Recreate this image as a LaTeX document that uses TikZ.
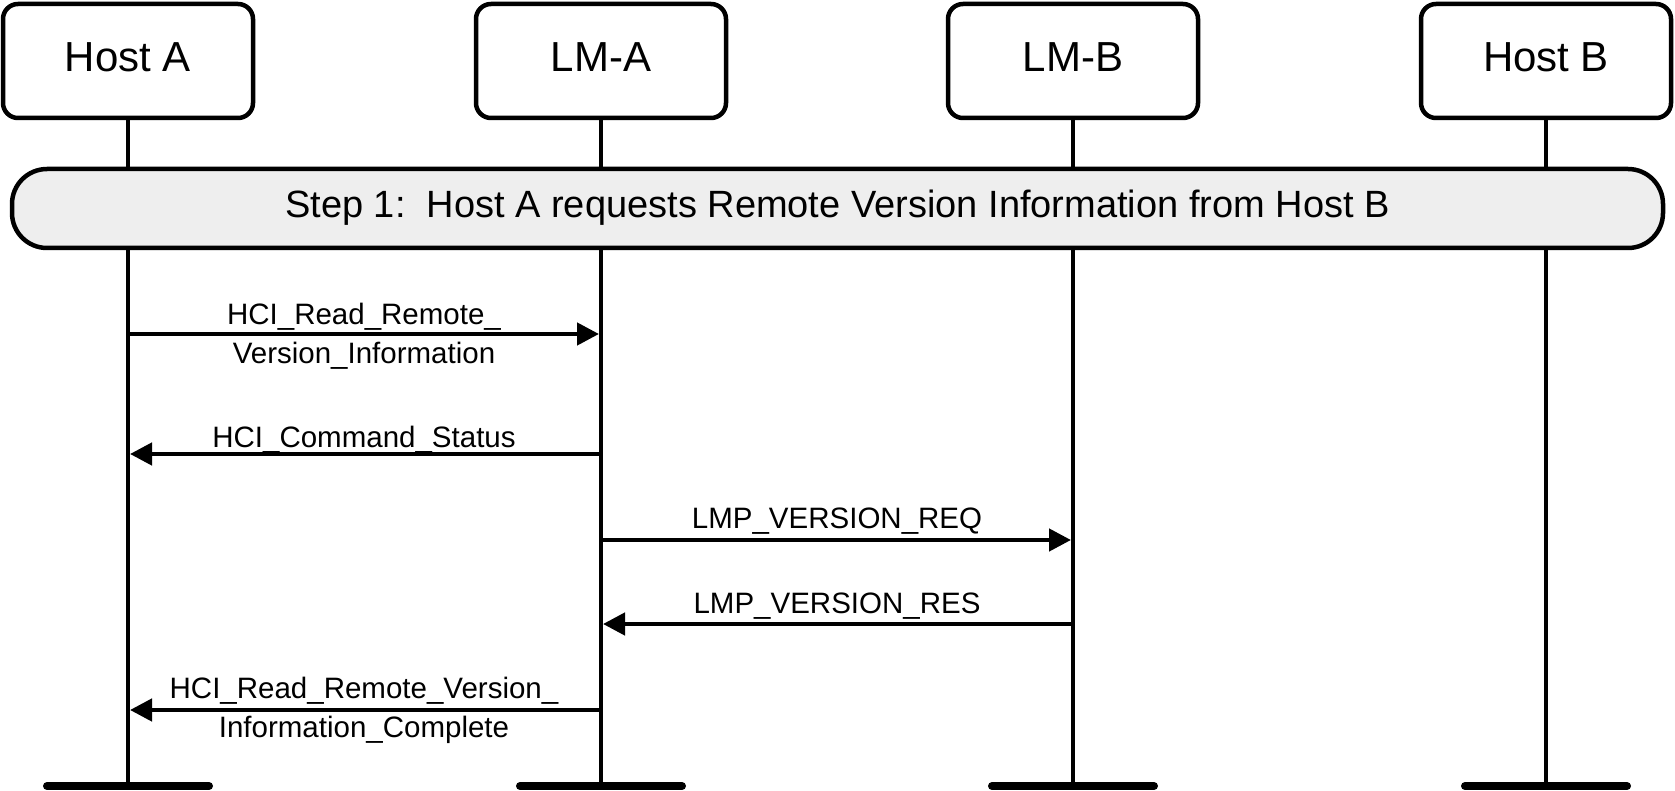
\documentclass[tikz,border=0pt]{standalone}
\usepackage{fontspec}
\setmainfont{Liberation Sans}
\usetikzlibrary{arrows.meta}
\begin{document}
\begin{tikzpicture}[x=1pt,y=-1pt,
  actor/.style={draw=black, line width=4.5pt, rounded corners=15pt, fill=white,
    minimum width=250pt, minimum height=114pt, inner sep=0pt,
    font=\fontsize{42pt}{48pt}\selectfont, text height=30pt, text depth=8pt},
  life/.style={line width=4.5pt},
  endbar/.style={line width=8pt, line cap=round},
  banner/.style={draw=black, line width=4.5pt, rounded corners=35pt, fill=bannergray,
    minimum width=1651pt, minimum height=79pt, inner sep=0pt,
    font=\fontsize{38pt}{42pt}\selectfont, text height=26pt, text depth=7pt},
  msg/.style={line width=4.5pt, -{Triangle[length=22pt,width=22pt]}, shorten >=2pt},
  lbl/.style={font=\fontsize{29.5pt}{33pt}\selectfont, inner sep=0pt, anchor=base}
]
\definecolor{bannergray}{HTML}{EEEEEE}
\useasboundingbox (0,0) rectangle (1675,791);

% actors
\node[actor] (ha)  at (128,61)  {Host A};
\node[actor] (lma) at (601,61)  {LM-A};
\node[actor] (lmb) at (1073,61) {LM-B};
\node[actor] (hb)  at (1546,61) {Host B};

% bottom coordinates
\coordinate (bot) at (0,786);
\coordinate (endA) at (ha |- bot);
\coordinate (endLA) at (lma |- bot);
\coordinate (endLB) at (lmb |- bot);
\coordinate (endB) at (hb |- bot);

% lifelines
\draw[life] (ha.south) -- (endA);
\draw[life] (lma.south) -- (endLA);
\draw[life] (lmb.south) -- (endLB);
\draw[life] (hb.south) -- (endB);

% end bars
\draw[endbar] ([xshift=-81pt]endA) -- ([xshift=81pt]endA);
\draw[endbar] ([xshift=-81pt]endLA) -- ([xshift=81pt]endLA);
\draw[endbar] ([xshift=-81pt]endLB) -- ([xshift=81pt]endLB);
\draw[endbar] ([xshift=-81pt]endB) -- ([xshift=81pt]endB);

% banner
\node[banner] (step) at (837.5,208.5) {Step 1:\ \ Host A requests Remote Version Information from Host B};

% message rows
\coordinate (m1) at (0,334);
\coordinate (m2) at (0,454);
\coordinate (m3) at (0,540);
\coordinate (m4) at (0,624);
\coordinate (m5) at (0,710);

\draw[msg] (ha |- m1) -- (lma |- m1);
\node[lbl] (t1a) at (364,325) {HCI\_Read\_Remote\_};
\node[lbl] (t1b) at (364,363) {Version\_Information};

\draw[msg] (lma |- m2) -- (ha |- m2);
\node[lbl] (t2) at (364,447) {HCI\_Command\_Status};

\draw[msg] (lma |- m3) -- (lmb |- m3);
\node[lbl] (t3) at (837,528) {LMP\_VERSION\_REQ};

\draw[msg] (lmb |- m4) -- (lma |- m4);
\node[lbl] (t4) at (837,613) {LMP\_VERSION\_RES};

\draw[msg] (lma |- m5) -- (ha |- m5);
\node[lbl] (t5a) at (364,698) {HCI\_Read\_Remote\_Version\_};
\node[lbl] (t5b) at (364,737) {Information\_Complete};
\end{tikzpicture}
\end{document}
